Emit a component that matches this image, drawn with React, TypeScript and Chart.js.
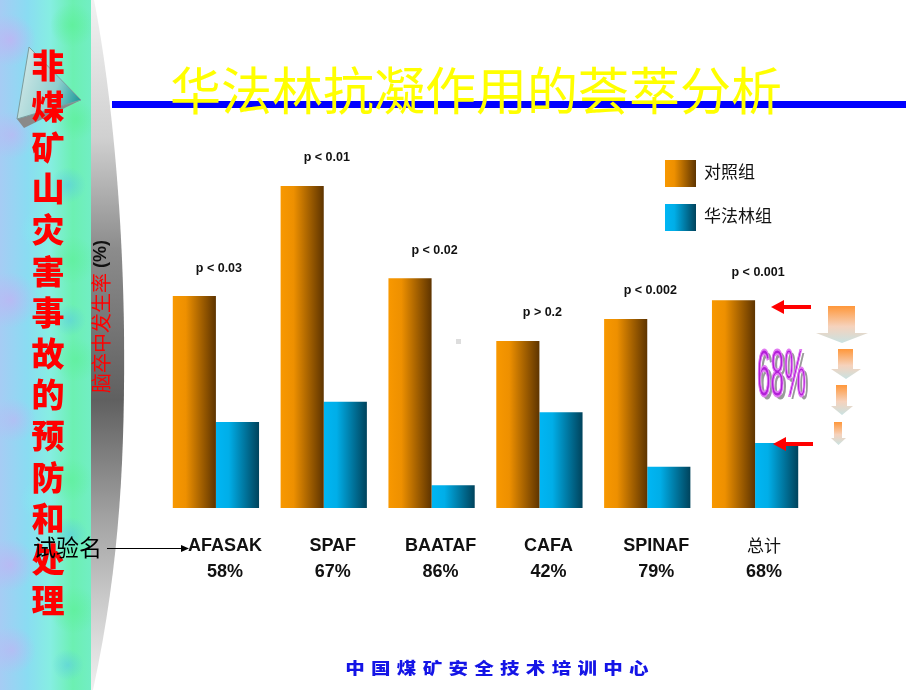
import React, { useEffect, useRef } from 'react';
import { Chart, registerables } from 'chart.js';

Chart.register(...registerables);

// ---------- data ----------
const trials = ['AFASAK', 'SPAF', 'BAATAF', 'CAFA', 'SPINAF', '总计'];
const reductions = ['58%', '67%', '86%', '42%', '79%', '68%'];
const pValues = ['p < 0.03', 'p < 0.01', 'p < 0.02', 'p > 0.2', 'p < 0.002', 'p < 0.001'];
const controlRates = [4.73, 7.19, 5.13, 3.73, 4.22, 4.64];
const warfarinRates = [1.92, 2.37, 0.51, 2.14, 0.92, 1.45];
const seriesNames = ['对照组', '华法林组'];
const titleText = '华法林抗凝作用的荟萃分析';
const sideTitle = '非煤矿山灾害事故的预防和处理';
const yAxisTitle = '脑卒中发生率';
const yAxisUnit = ' (%)';
const xAxisTitle = '试验名';
const totalReduction = '68%';
const footerText = '中国煤矿安全技术培训中心';

const CJK = '"Noto Sans CJK SC"';
const LAT = '"Liberation Sans", Arial';

const orangeStops = ['#F89800', '#EE9000', '#5E3400'];
const cyanStops = ['#00B6F4', '#00AEE8', '#00435C'];

function hGrad(ctx: CanvasRenderingContext2D, x0: number, x1: number, stops: string[]) {
  const g = ctx.createLinearGradient(x0, 0, x1, 0);
  g.addColorStop(0, stops[0]);
  g.addColorStop(0.3, stops[1]);
  g.addColorStop(1, stops[2]);
  return g;
}

const barFill = (stops: string[], side: number) => (c: any) => {
  const chart = c.chart;
  const xs = chart.scales && chart.scales.x;
  if (!chart.chartArea || !xs || c.type !== 'data') return stops[0];
  const center = xs.getPixelForValue(c.dataIndex);
  const step = xs.getPixelForValue(1) - xs.getPixelForValue(0);
  const w = (step * 0.8) / 2;
  const left = side === 0 ? center - w : center;
  return hGrad(chart.ctx, left, left + w, stops);
};

const decorPlugin = {
  id: 'decor',
  beforeDraw(chart: any) {
    const ctx: CanvasRenderingContext2D = chart.ctx;
    ctx.save();
    ctx.fillStyle = '#FFFFFF';
    ctx.fillRect(0, 0, 920, 690);

    // left pastel panel
    const pg = ctx.createLinearGradient(0, 0, 91, 0);
    pg.addColorStop(0, '#A6CCF4');
    pg.addColorStop(0.3, '#8ADCF2');
    pg.addColorStop(0.55, '#86EEE2');
    pg.addColorStop(0.8, '#6CF0B2');
    pg.addColorStop(1, '#72EEC4');
    ctx.fillStyle = pg;
    ctx.fillRect(0, 0, 91, 690);
    const blobs: [number, number, number, string][] = [
      [10, 40, 26, 'rgba(196,176,244,0.75)'],
      [12, 135, 24, 'rgba(196,176,244,0.6)'],
      [10, 300, 28, 'rgba(196,176,244,0.7)'],
      [14, 420, 22, 'rgba(196,176,244,0.55)'],
      [10, 565, 26, 'rgba(196,176,244,0.7)'],
      [12, 650, 24, 'rgba(196,176,244,0.6)'],
      [72, 25, 22, 'rgba(92,240,150,0.7)'],
      [76, 120, 20, 'rgba(92,240,150,0.6)'],
      [72, 260, 24, 'rgba(92,240,150,0.6)'],
      [76, 360, 22, 'rgba(92,240,150,0.6)'],
      [70, 480, 22, 'rgba(92,240,150,0.6)'],
      [74, 610, 24, 'rgba(92,240,150,0.65)'],
      [68, 185, 18, 'rgba(90,200,232,0.6)'],
      [70, 320, 16, 'rgba(90,200,232,0.55)'],
      [70, 535, 18, 'rgba(90,200,232,0.6)'],
      [68, 665, 16, 'rgba(90,200,232,0.55)'],
      [40, 230, 20, 'rgba(130,236,240,0.6)'],
      [40, 500, 20, 'rgba(130,236,240,0.6)'],
    ];
    ctx.save();
    ctx.beginPath();
    ctx.rect(0, 0, 91, 690);
    ctx.clip();
    for (const [bx, by, br, col] of blobs) {
      const rg = ctx.createRadialGradient(bx, by, 0, bx, by, br);
      rg.addColorStop(0, col);
      rg.addColorStop(1, col.replace(/[\d.]+\)$/, '0)'));
      ctx.fillStyle = rg;
      ctx.fillRect(bx - br, by - br, br * 2, br * 2);
    }
    ctx.restore();

    // grey curved band
    const bg = ctx.createLinearGradient(0, 0, 0, 690);
    bg.addColorStop(0, '#F2F2F2');
    bg.addColorStop(0.2, '#D0D0D0');
    bg.addColorStop(0.36, '#8C8C8C');
    bg.addColorStop(0.58, '#606060');
    bg.addColorStop(0.75, '#A2A2A2');
    bg.addColorStop(0.87, '#CACACA');
    bg.addColorStop(1, '#F0F0F0');
    ctx.fillStyle = bg;
    ctx.beginPath();
    ctx.moveTo(91, 0);
    ctx.lineTo(94, 0);
    ctx.bezierCurveTo(106, 60, 122, 180, 124, 330);
    ctx.bezierCurveTo(125, 450, 121, 560, 93, 690);
    ctx.lineTo(91, 690);
    ctx.closePath();
    ctx.fill();

    // triangle ornament
    ctx.fillStyle = '#8A8A8A';
    ctx.beginPath();
    ctx.moveTo(17, 119);
    ctx.lineTo(81, 100);
    ctx.lineTo(24, 128);
    ctx.closePath();
    ctx.fill();
    const tg = ctx.createLinearGradient(17, 80, 81, 100);
    tg.addColorStop(0, '#CFE6E6');
    tg.addColorStop(0.6, '#8FCFCF');
    tg.addColorStop(1, '#1A9898');
    ctx.fillStyle = tg;
    ctx.strokeStyle = '#7C9C9C';
    ctx.lineWidth = 1;
    ctx.beginPath();
    ctx.moveTo(29, 47);
    ctx.lineTo(17, 119);
    ctx.lineTo(81, 100);
    ctx.closePath();
    ctx.fill();
    ctx.stroke();

    // vertical red side title
    ctx.fillStyle = '#FF0000';
    ctx.font = `900 33px ${CJK}`;
    ctx.textAlign = 'center';
    ctx.textBaseline = 'middle';
    const chars = Array.from(sideTitle);
    chars.forEach((ch, i) => {
      ctx.fillText(ch, 48, 65 + i * 41.2);
    });

    // blue rule + title
    ctx.fillStyle = '#0000FF';
    ctx.fillRect(112, 101, 794, 7);
    ctx.fillStyle = '#FFFF00';
    ctx.font = `400 51px ${CJK}`;
    ctx.textAlign = 'left';
    ctx.textBaseline = 'middle';
    ctx.fillText(titleText, 170, 91);
    ctx.restore();
  },
  afterDatasetsDraw(chart: any) {
    const ctx: CanvasRenderingContext2D = chart.ctx;
    const xs = chart.scales.x;
    const meta0 = chart.getDatasetMeta(0);
    ctx.save();
    ctx.textAlign = 'center';
    ctx.textBaseline = 'middle';
    ctx.fillStyle = '#111111';
    pValues.forEach((p, i) => {
      const el = meta0.data[i];
      const cx = xs.getPixelForValue(i) + 3;
      ctx.font = `bold 12.5px ${LAT}`;
      ctx.fillText(p, cx, el.y - 28);
    });
    trials.forEach((t, i) => {
      const cx = xs.getPixelForValue(i) + 9;
      const isCjk = /[\u4e00-\u9fff]/.test(t);
      ctx.font = isCjk ? `400 17px ${CJK}` : `bold 18px ${LAT}`;
      ctx.fillText(t, cx, 546);
      ctx.font = `bold 18px ${LAT}`;
      ctx.fillText(reductions[i], cx, 572);
    });
    ctx.restore();
  },
  afterDraw(chart: any) {
    const ctx: CanvasRenderingContext2D = chart.ctx;
    ctx.save();

    // legend
    const sw = [orangeStops, cyanStops];
    seriesNames.forEach((name, i) => {
      const y0 = 160 + i * 44;
      ctx.fillStyle = hGrad(ctx, 665, 696, sw[i]);
      ctx.fillRect(665, y0, 31, 27);
      ctx.fillStyle = '#111111';
      ctx.font = `400 17px ${CJK}`;
      ctx.textAlign = 'left';
      ctx.textBaseline = 'middle';
      ctx.fillText(name, 704, y0 + 12);
    });

    // y axis title (rotated)
    ctx.save();
    ctx.translate(101, 393);
    ctx.rotate(-Math.PI / 2);
    ctx.textAlign = 'left';
    ctx.textBaseline = 'middle';
    ctx.fillStyle = '#FF0000';
    ctx.font = `400 20px ${CJK}`;
    ctx.fillText(yAxisTitle, 0, 0);
    const w1 = ctx.measureText(yAxisTitle).width;
    ctx.fillStyle = '#111111';
    ctx.font = `bold 18px ${LAT}`;
    ctx.fillText(yAxisUnit, w1, 0);
    ctx.restore();

    // x axis title with arrow
    ctx.fillStyle = '#000000';
    ctx.font = `400 23px ${CJK}`;
    ctx.textAlign = 'left';
    ctx.textBaseline = 'middle';
    ctx.fillText(xAxisTitle, 33, 547);
    ctx.strokeStyle = '#000000';
    ctx.lineWidth = 1;
    ctx.beginPath();
    ctx.moveTo(107, 548.5);
    ctx.lineTo(182, 548.5);
    ctx.stroke();
    ctx.beginPath();
    ctx.moveTo(189, 548.5);
    ctx.lineTo(181, 545);
    ctx.lineTo(181, 552);
    ctx.closePath();
    ctx.fill();

    // small grey mark
    ctx.fillStyle = '#DDDDDD';
    ctx.fillRect(456, 339, 5, 5);

    // red arrows pointing at the total bars
    const redArrow = (xTip: number, xEnd: number, y: number) => {
      ctx.strokeStyle = '#FF0000';
      ctx.fillStyle = '#FF0000';
      ctx.lineWidth = 4;
      ctx.beginPath();
      ctx.moveTo(xTip + 10, y);
      ctx.lineTo(xEnd, y);
      ctx.stroke();
      ctx.beginPath();
      ctx.moveTo(xTip, y);
      ctx.lineTo(xTip + 13, y - 7);
      ctx.lineTo(xTip + 13, y + 7);
      ctx.closePath();
      ctx.fill();
    };
    redArrow(771, 811, 307);
    redArrow(773, 813, 444);

    // 68% condensed purple text
    ctx.save();
    ctx.translate(757, 396);
    ctx.scale(0.37, 1);
    ctx.font = `400 66px ${LAT}`;
    ctx.textAlign = 'left';
    ctx.textBaseline = 'alphabetic';
    ctx.fillStyle = '#9A9A9A';
    ctx.fillText(totalReduction, 8, 3);
    ctx.fillStyle = '#B21FD8';
    ctx.fillText(totalReduction, 0, 0);
    ctx.strokeStyle = '#E27AF2';
    ctx.lineWidth = 2;
    ctx.strokeText(totalReduction, 0, 0);
    ctx.restore();

    // descending gradient arrows
    const downs: number[][] = [
      [828, 855, 306, 333, 816, 868, 343],
      [838, 853, 349, 369, 831, 861, 379],
      [836, 847, 385, 406, 831, 853, 415],
      [834, 842, 422, 438, 831, 846, 445],
    ];
    downs.forEach(([l, r, top, hy, hl, hr, tip]) => {
      const g = ctx.createLinearGradient(0, top, 0, tip);
      g.addColorStop(0, '#FF973A');
      g.addColorStop(0.55, '#F6D2BC');
      g.addColorStop(1, '#C9E2E2');
      ctx.fillStyle = g;
      ctx.beginPath();
      ctx.moveTo(l, top);
      ctx.lineTo(r, top);
      ctx.lineTo(r, hy);
      ctx.lineTo(hr, hy);
      ctx.lineTo((hl + hr) / 2, tip);
      ctx.lineTo(hl, hy);
      ctx.lineTo(l, hy);
      ctx.closePath();
      ctx.fill();
    });

    // footer
    ctx.fillStyle = '#1414E6';
    ctx.font = `900 16px ${CJK}`;
    ctx.textAlign = 'center';
    ctx.textBaseline = 'middle';
    Array.from(footerText).forEach((ch, i) => {
      ctx.save();
      ctx.translate(355 + i * 25.8, 668);
      ctx.scale(1.22, 1);
      ctx.fillText(ch, 0, 0);
      ctx.restore();
    });

    ctx.restore();
  },
};

export default function App() {
  const ref = useRef<HTMLCanvasElement | null>(null);
  useEffect(() => {
    document.body.style.margin = '0';
    const canvas = ref.current;
    if (!canvas) return;
    const chart = new Chart(canvas, {
      type: 'bar',
      data: {
        labels: trials,
        datasets: [
          {
            label: seriesNames[0],
            data: controlRates,
            backgroundColor: barFill(orangeStops, 0),
            borderWidth: 0,
            categoryPercentage: 0.8,
            barPercentage: 1.0,
          },
          {
            label: seriesNames[1],
            data: warfarinRates,
            backgroundColor: barFill(cyanStops, 1),
            borderWidth: 0,
            categoryPercentage: 0.8,
            barPercentage: 1.0,
          },
        ],
      },
      options: {
        responsive: false,
        animation: false,
        devicePixelRatio: 1,
        layout: { padding: { left: 162, right: 111, top: 60, bottom: 182 } },
        plugins: {
          legend: { display: false },
          tooltip: { enabled: false },
          title: { display: false },
        },
        scales: {
          x: { display: false, offset: true },
          y: { display: false, min: 0, max: 10 },
        },
      },
      plugins: [decorPlugin],
    });
    return () => chart.destroy();
  }, []);
  return (
    <div style={{ position: 'fixed', left: 0, top: 0, width: 920, height: 690, background: '#fff' }}>
      <canvas ref={ref} width={920} height={690} style={{ display: 'block' }} />
    </div>
  );
}
